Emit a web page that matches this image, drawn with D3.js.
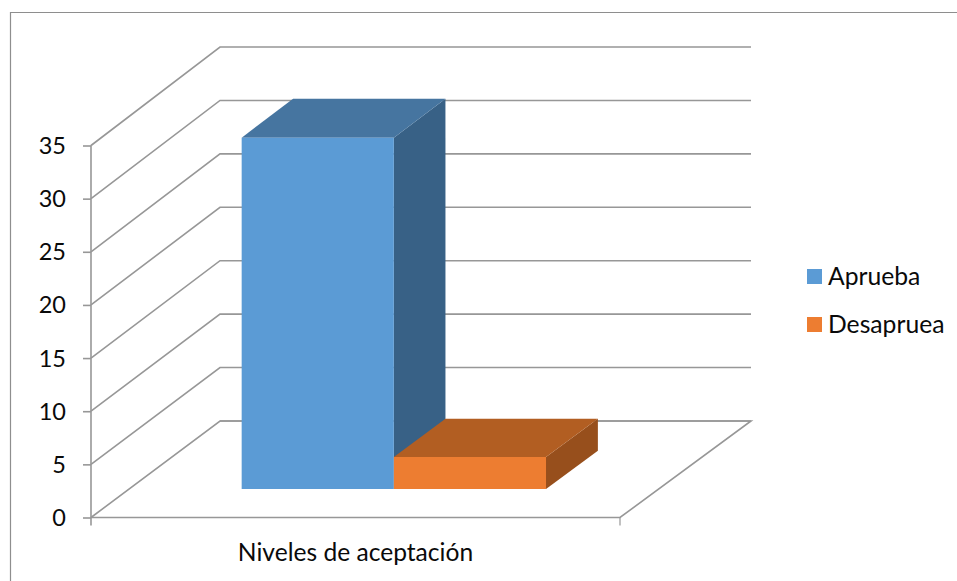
<!DOCTYPE html>
<html><head><meta charset="utf-8">
<script src="https://cdnjs.cloudflare.com/ajax/libs/d3/7.8.5/d3.min.js"></script>
<style>html,body{margin:0;padding:0;background:#fff}svg{display:block}text{font-family:Lato,"Open Sans",sans-serif;fill:#0a0a0a}</style>
</head><body><svg id="c" width="957" height="581"></svg>
<script>
const category = "Niveles de aceptación";
const seriesNames = ["Aprueba", "Desapruea"];
const seriesValues = [33, 3];
const tickValues = [0, 5, 10, 15, 20, 25, 30, 35];
const frontColors = ["#5b9bd5", "#ed7d31"];
const topColors = ["#4675a0", "#b25e22"];
const sideColors = ["#386186", "#974f1c"];
const gridColor = "#979797";

const svg = d3.select("#c");
const W = 957, H = 581;
svg.append("path").attr("d", `M10.5 ${H}V12.5H${W}`).attr("fill", "none").attr("stroke", "#8e8e8e").attr("stroke-width", 1.2);

const x0 = 91, x1 = 620;
const y = d3.scaleLinear().domain([0, 35]).range([517.5, 145.5]);
const yBack = d3.scaleLinear().domain([0, 35]).range([421, 47]);
const xBack = d3.scaleLinear().domain([x0, x1]).range([220, 751]);
const xBand = d3.scaleBand().domain(seriesNames).range([x0, x1]).paddingInner(0).paddingOuter(0.74);
// z runs from the front plane (0) to the back wall (1)
const P = (xv, v, z) => [xv + (xBack(xv) - xv) * z, y(v) + (yBack(v) - y(v)) * z];
const poly = pts => "M" + pts.map(p => p.join(",")).join("L") + "Z";
const line = d3.line();

const grid = svg.append("g").attr("fill", "none").attr("stroke", gridColor).attr("stroke-width", 1.6);
grid.append("path").attr("d", line([P(x0, 0, 0), P(x1, 0, 0), P(x1, 0, 1), P(x0, 0, 1)]));
grid.selectAll(".g").data(tickValues).join("path").attr("class", "g")
  .attr("d", t => line([P(x0, t, 0), P(x0, t, 1), P(x1, t, 1)]));

const axisG = svg.append("g").attr("transform", `translate(${x0},0)`)
  .call(d3.axisLeft(y).tickValues(tickValues).tickSize(8).tickPadding(14).tickFormat(d3.format("d")));
axisG.selectAll("line,path").attr("stroke", gridColor).attr("stroke-width", 1.6);
axisG.select(".domain").attr("d", `M0,${y(35)}V${y(0)+8}`);
axisG.selectAll("text").attr("font-size", 23.5).attr("dy", "0.34em").style("font-family", "Lato").attr("x", -25).attr("fill", "#0a0a0a");
svg.append("line").attr("x1", x1).attr("x2", x1).attr("y1", y(0)).attr("y2", y(0) + 8).attr("stroke", gridColor).attr("stroke-width", 1.2);

const zFront = 0.295, zBack = 0.692;
const bars = svg.append("g").selectAll("g").data(seriesNames.map((n, i) => ({ n, v: seriesValues[i], i }))).join("g");
bars.append("path").attr("fill", d => sideColors[d.i]).attr("d", d => {
  const r = xBand(d.n) + xBand.bandwidth();
  return poly([P(r, 0, zFront), P(r, d.v, zFront), P(r, d.v, zBack), P(r, 0, zBack)]);
});
bars.append("path").attr("fill", d => topColors[d.i]).attr("d", d => {
  const l = xBand(d.n), r = l + xBand.bandwidth();
  return poly([P(l, d.v, zFront), P(r, d.v, zFront), P(r, d.v, zBack), P(l, d.v, zBack)]);
});
bars.append("path").attr("fill", d => frontColors[d.i]).attr("d", d => {
  const l = xBand(d.n), r = l + xBand.bandwidth();
  return poly([P(l, 0, zFront), P(r, 0, zFront), P(r, d.v, zFront), P(l, d.v, zFront)]);
});

svg.append("text").attr("x", 355.5).attr("y", 561).attr("text-anchor", "middle").attr("font-size", 24.6).text(category);

const legendY = d3.scalePoint().domain(seriesNames).range([276.5, 324.5]);
const lg = svg.append("g").selectAll("g").data(seriesNames).join("g").attr("transform", d => `translate(807,${legendY(d)})`);
lg.append("rect").attr("y", -7.5).attr("width", 15).attr("height", 15).attr("fill", (d, i) => frontColors[i]);
lg.append("text").attr("x", 21).attr("y", 8).attr("font-size", 24.7).text(d => d);
</script></body></html>
